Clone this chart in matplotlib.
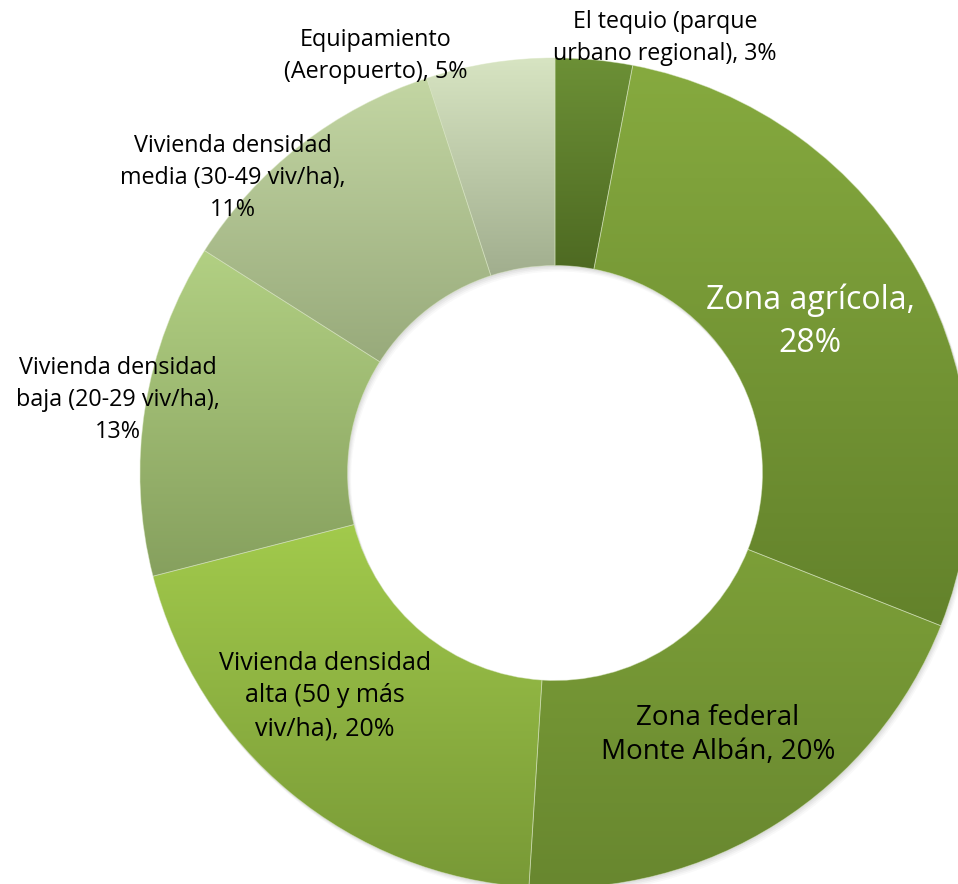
import numpy as np
import matplotlib.pyplot as plt
from matplotlib.patches import Wedge
from matplotlib.colors import LinearSegmentedColormap

etiquetas = [
    "El tequio (parque\nurbano regional), 3%",
    "Zona agrícola,\n28%",
    "Zona federal\nMonte Albán, 20%",
    "Vivienda densidad\nalta (50 y más\nviv/ha), 20%",
    "Vivienda densidad\nbaja (20-29 viv/ha),\n13%",
    "Vivienda densidad\nmedia (30-49 viv/ha),\n11%",
    "Equipamiento\n(Aeropuerto), 5%",
]
porcentajes = [3, 28, 20, 20, 13, 11, 5]

# colores de degradado (arriba, abajo) de cada sector
color_arriba = ["#6c9036", "#86aa3f", "#7c9f38", "#a2ca4c", "#b2d083", "#c3d6a3", "#d7e4c2"]
color_abajo = ["#4e6a22", "#63822b", "#68872f", "#789936", "#86a05e", "#98aa7b", "#a1ae8e"]

# posiciones de las etiquetas (en pixeles) y estilo
pos_etiquetas = [(665, 38), (810, 322), (718, 735), (325, 696), (118, 400), (233, 178), (376, 56)]
tam_etiquetas = [16.7, 23, 20, 18, 16.8, 16.8, 16.8]
interlineado = [1.45, 1.42, 1.27, 1.4, 1.45, 1.45, 1.45]
color_texto = ["black", "white", "black", "black", "black", "black", "black"]

W, H = 958, 884
cx, cy, R = 555, 473, 415
ancho = 0.5

fig = plt.figure(figsize=(W / 100, H / 100), dpi=100)
ax = fig.add_axes([0, 0, 1, 1])
ax.set_xlim(-cx / R, (W - cx) / R)
ax.set_ylim(-(H - cy) / R, cy / R)
ax.axis("off")

# sombra suave del anillo
for k, a in enumerate([0.05, 0.05, 0.04, 0.03]):
    d = (k + 1) * 1.5 / R
    sombra = Wedge((d * 0.6, -d), 1, 0, 360, width=ancho, facecolor="#444444",
                   edgecolor="none", alpha=a, zorder=1)
    ax.add_patch(sombra)

total = sum(porcentajes)
acum = np.concatenate([[0], np.cumsum(porcentajes)]) / total
for i in range(len(porcentajes)):
    t1 = 90 - 360 * acum[i + 1]
    t2 = 90 - 360 * acum[i]
    w = Wedge((0, 0), 1, t1, t2, width=ancho, facecolor="none",
              edgecolor="none", zorder=2)
    ax.add_patch(w)
    bb = w.get_path().get_extents()
    cmap = LinearSegmentedColormap.from_list("g%d" % i, [color_abajo[i], color_arriba[i]])
    grad = np.linspace(1, 0, 256).reshape(-1, 1)
    im = ax.imshow(grad, cmap=cmap, vmin=0, vmax=1, aspect="auto",
                   extent=[bb.x0, bb.x1, bb.y0, bb.y1], origin="upper",
                   zorder=2, interpolation="bilinear")
    im.set_clip_path(w)
    borde = Wedge((0, 0), 1, t1, t2, width=ancho, facecolor="none",
                  edgecolor="#d8e6c0", linewidth=0.6, alpha=0.5, zorder=3)
    ax.add_patch(borde)

ax.set_xlim(-cx / R, (W - cx) / R)
ax.set_ylim(-(H - cy) / R, cy / R)

for i, txt in enumerate(etiquetas):
    px, py = pos_etiquetas[i]
    ax.text((px - cx) / R, (cy - py) / R, txt, ha="center", va="center",
            fontsize=tam_etiquetas[i], color=color_texto[i], family="Open Sans",
            linespacing=interlineado[i], zorder=5)

fig.savefig("out.png", dpi=100)
